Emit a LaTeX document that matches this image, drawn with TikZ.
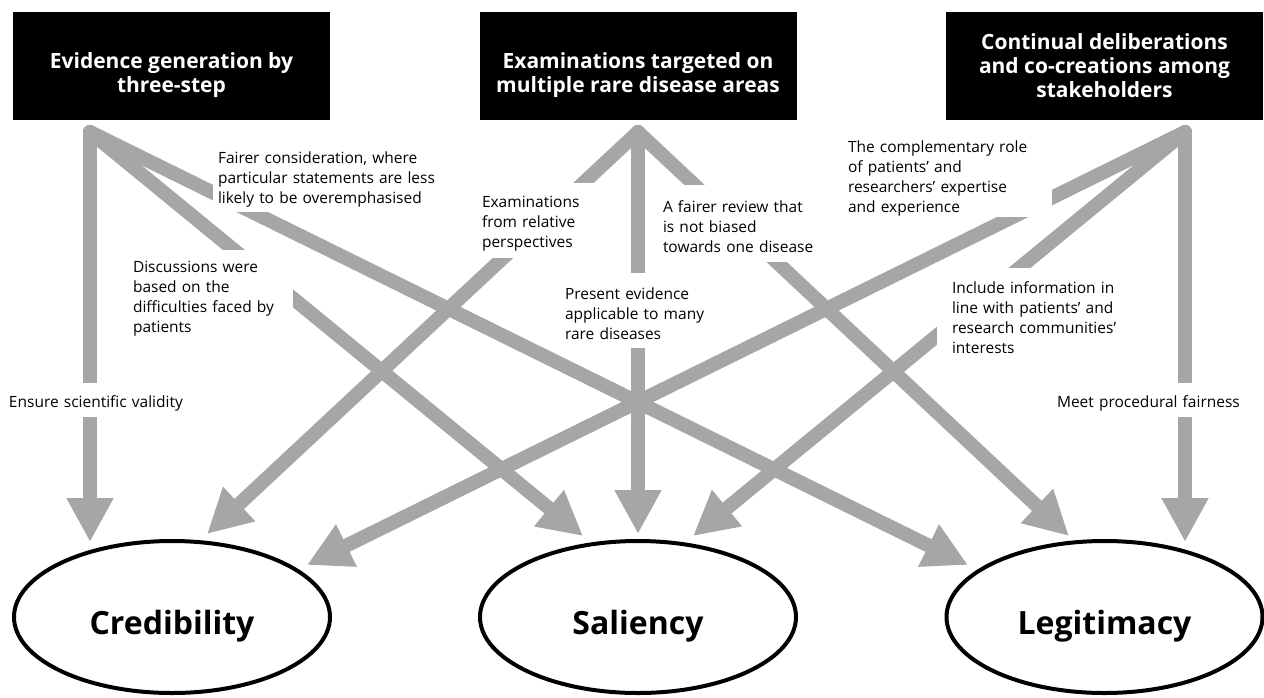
\documentclass[tikz,border=0pt]{standalone}
\usepackage{fontspec}
\setmainfont{Open Sans}
\usetikzlibrary{arrows.meta,backgrounds,shapes.geometric}
\definecolor{arrowgray}{RGB}{166,166,166}
\begin{document}
\begin{tikzpicture}[x=1pt,y=-1pt,
  conn/.style={draw=arrowgray,line width=14pt,line cap=round,-{Triangle[length=44pt,width=44pt]}},
  topbox/.style={fill=black,text=white,font=\fontsize{21}{24}\selectfont\bfseries,align=center,minimum width=317pt,minimum height=108pt,inner sep=0pt},
  outcome/.style={ellipse,draw=black,line width=4pt,minimum width=316pt,minimum height=152pt,font=\fontsize{32}{38}\selectfont\bfseries,inner sep=0pt,text height=34pt,text depth=0pt},
  lbl/.style={fill=white,align=left,font=\fontsize{15.5}{20}\selectfont,inner ysep=0pt,text height=18.5pt}
]
\useasboundingbox (0,0) rectangle (1264,697);

% source boxes
\node[topbox] (b1) at (171.5,66) {\rule{0pt}{34pt}Evidence generation by\\three-step};
\node[topbox] (b2) at (638,66) {\rule{0pt}{34pt}Examinations targeted on\\multiple rare disease areas};
\node[topbox] (b3) at (1104.5,66) {Continual deliberations\\and co-creations among\\stakeholders};

% outcomes
\node[outcome] (cred) at (172,617) {Credibility};
\node[outcome] (sal) at (638,617) {Saliency};
\node[outcome] (leg) at (1104.5,617) {Legitimacy};

% connector end points
\coordinate (s1) at (90,132);
\coordinate (s2) at (638,132);
\coordinate (s3) at (1185,132);
\coordinate (c1) at (90,542);
\coordinate (c2) at (207,534);
\coordinate (c3) at (307,565);
\coordinate (v1) at (583,536);
\coordinate (v2) at (638,534);
\coordinate (v3) at (693,536);
\coordinate (g1) at (968,565);
\coordinate (g2) at (1069,536);
\coordinate (g3) at (1185,542);

\begin{pgfonlayer}{background}
\draw[conn] (s1) -- (c1);
\draw[conn] (s1) -- (v1);
\draw[conn] (s1) -- (g1);
\draw[conn] (s2) -- (c2);
\draw[conn] (s2) -- (v2);
\draw[conn] (s2) -- (g2);
\draw[conn] (s3) -- (c3);
\draw[conn] (s3) -- (v3);
\draw[conn] (s3) -- (g3);
\end{pgfonlayer}

% labels
\node[lbl,inner xsep=5pt,text width=237pt,minimum height=72pt] (l1) at (336.5,176)
  {Fairer consideration, where\\particular statements are less\\likely to be overemphasised};
\node[lbl,inner xsep=6pt,text width=154pt,minimum height=90pt] (l2) at (210,295)
  {Discussions were\\based on the\\difficulties faced by\\patients};
\node[lbl,inner xsep=9pt,text width=192pt,minimum height=34pt] (l3) at (105,400)
  {Ensure scientific validity};
\node[lbl,inner xsep=7pt,text width=116pt,minimum height=75pt] (l4) at (540,220.5)
  {Examinations\\from relative\\perspectives};
\node[lbl,inner xsep=8pt,text width=169pt,minimum height=77pt] (l5) at (747.5,223.5)
  {A fairer review that\\is not biased\\towards one disease};
\node[lbl,inner xsep=9pt,text width=151pt,minimum height=75pt] (l6) at (640.5,310.5)
  {Present evidence\\applicable to many\\rare diseases};
\node[lbl,inner xsep=8pt,text width=196pt,minimum height=81pt] (l7) at (946,175.5)
  {The complementary role\\of patients’ and\\researchers’ expertise\\and experience};
\node[lbl,inner xsep=15pt,text width=173pt,minimum height=92pt] (l8) at (1038.5,314)
  {Include information in\\line with patients’ and\\research communities’\\interests};
\node[lbl,inner xsep=7pt,text width=186pt,minimum height=34pt] (l9) at (1150,400)
  {Meet procedural fairness};
\end{tikzpicture}
\end{document}
